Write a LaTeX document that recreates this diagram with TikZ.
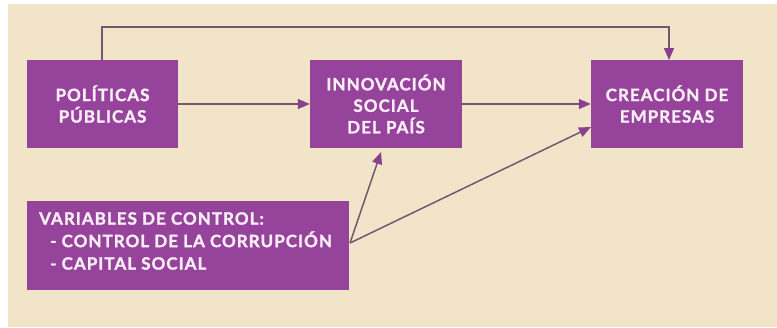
\documentclass[tikz,border=0pt]{standalone}
\usepackage{fontspec}
\setmainfont{Lato}
\newfontfamily\boxfont[LetterSpace=6,BoldFeatures={FakeBold=1.4}]{Lato}
\usetikzlibrary{arrows.meta}
\definecolor{bgc}{HTML}{F2E4C9}
\definecolor{boxc}{HTML}{96439C}
\definecolor{linec}{HTML}{73586F}
\definecolor{tipc}{HTML}{8A3F90}
\definecolor{txtc}{HTML}{FAEEF6}
\tikzset{
  pbox/.style={fill=boxc, draw=none, text=txtc, font=\boxfont\fontsize{17}{21.5}\selectfont\bfseries, align=center, inner sep=0pt},
  conn/.style={draw=linec, line width=1.5pt, -{Triangle[length=12pt,width=10pt,fill=tipc,color=tipc]}}
}
\begin{document}
\begin{tikzpicture}[x=1pt,y=-1pt]
\useasboundingbox (0,0) rectangle (777,327);
\fill[white] (0,0) rectangle (777,327);
\fill[bgc] (8,4) rectangle (777,327);
\node[pbox, minimum width=151pt, minimum height=88pt] (pp) at (102.5,104) {POLÍTICAS\\PÚBLICAS};
\node[pbox, minimum width=152pt, minimum height=88pt] (is) at (386,104) {INNOVACIÓN\\SOCIAL\\DEL PAÍS};
\node[pbox, minimum width=152pt, minimum height=88pt] (ce) at (667,104) {CREACIÓN DE\\EMPRESAS};
\node[pbox, minimum width=322pt, minimum height=89pt] (vc) at (188,245.5) {};
\node[text=txtc, font=\boxfont\fontsize{17}{22.5}\selectfont\bfseries, align=left, anchor=north west, inner sep=0pt] (vt) at (39,212) {VARIABLES DE CONTROL:\\\hspace*{11pt}- CONTROL DE LA CORRUPCIÓN\\\hspace*{11pt}- CAPITAL SOCIAL};
\coordinate (vo) at (350,243);
\coordinate (ppt) at (102,60);
\coordinate (cet) at (669,60);
\draw[conn] (ppt) -- (102,27) -- (669,27) -- (cet);
\draw[conn] (pp.east) -- (is.west);
\draw[conn] (is.east) -- (ce.west);
\draw[conn] (vo) -- (381,152);
\draw[conn] (vo) -- (591,127);
\end{tikzpicture}
\end{document}
